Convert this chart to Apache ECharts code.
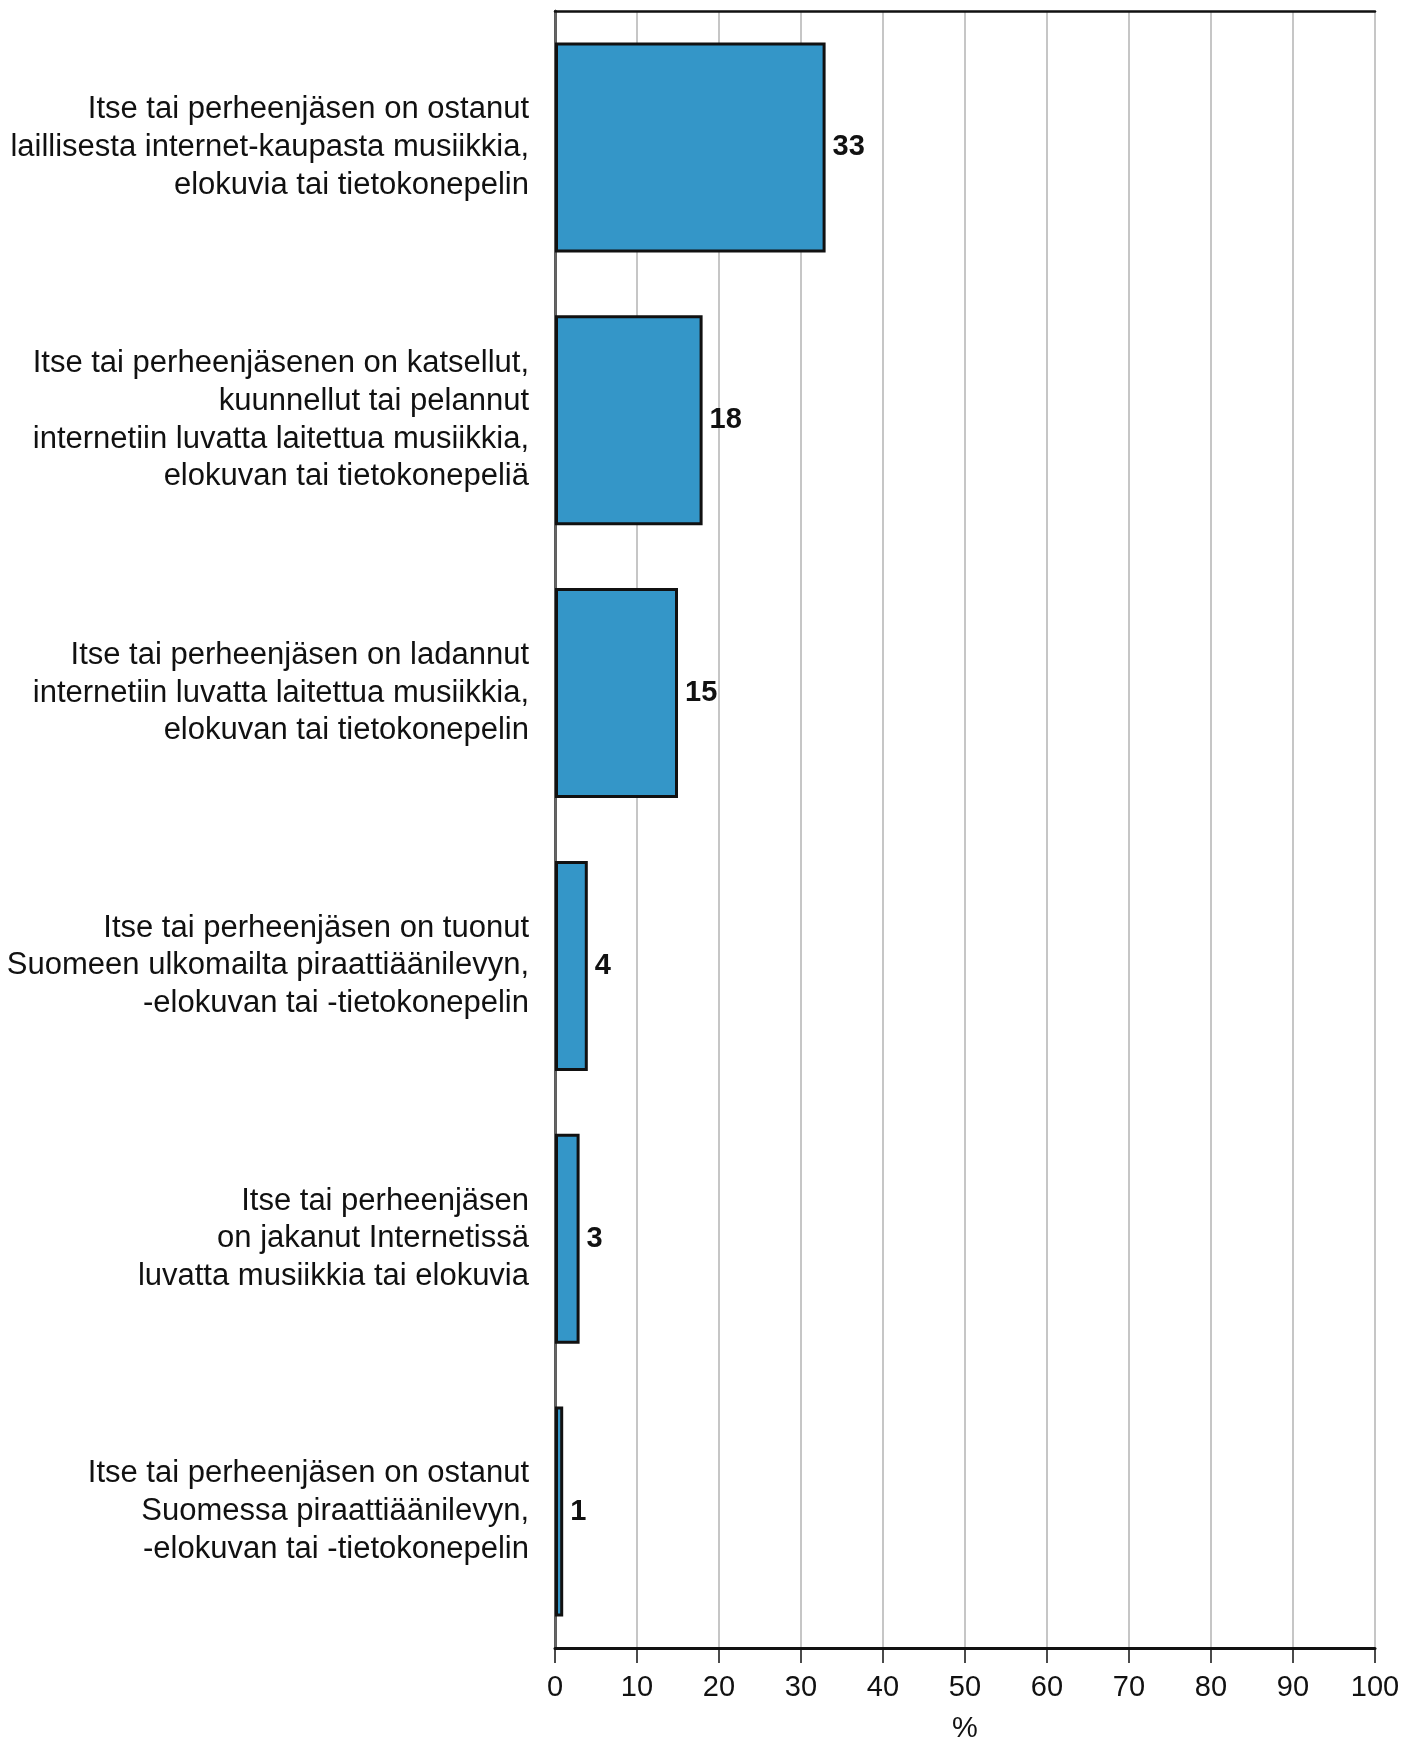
<!DOCTYPE html>
<html>
<head>
<meta charset="utf-8">
<script src="https://cdn.jsdelivr.net/npm/echarts@6/dist/echarts.min.js"></script>
<style>
html,body{margin:0;padding:0;background:#fff;}
#chart{width:1403px;height:1739px;}
</style>
</head>
<body>
<div id="chart"></div>
<script>
const categories = [
  "Itse tai perheenjäsen on ostanut\nlaillisesta internet-kaupasta musiikkia,\nelokuvia tai tietokonepelin",
  "Itse tai perheenjäsenen on katsellut,\nkuunnellut tai pelannut\ninternetiin luvatta laitettua musiikkia,\nelokuvan tai tietokonepeliä",
  "Itse tai perheenjäsen on ladannut\ninternetiin luvatta laitettua musiikkia,\nelokuvan tai tietokonepelin",
  "Itse tai perheenjäsen on tuonut\nSuomeen ulkomailta piraattiäänilevyn,\n-elokuvan tai -tietokonepelin",
  "Itse tai perheenjäsen\non jakanut Internetissä\nluvatta musiikkia tai elokuvia",
  "Itse tai perheenjäsen on ostanut\nSuomessa piraattiäänilevyn,\n-elokuvan tai -tietokonepelin"
];
const values = [33, 18, 15, 4, 3, 1];
const xTicks = [0, 10, 20, 30, 40, 50, 60, 70, 80, 90, 100];
const axisName = "%";

const FONT = "'Liberation Sans', Arial, sans-serif";
const chart = echarts.init(document.getElementById('chart'), null, {renderer: 'canvas'});
chart.setOption({
  backgroundColor: '#ffffff',
  animation: false,
  grid: {left: 555, right: 28, top: 11, bottom: 91, containLabel: false, outerBoundsMode: 'none'},
  xAxis: [{
    type: 'value',
    min: xTicks[0],
    max: xTicks[xTicks.length - 1],
    interval: 10,
    position: 'bottom',
    name: axisName,
    nameLocation: 'middle',
    nameGap: 66,
    nameTextStyle: {fontFamily: FONT, fontSize: 29, color: '#111'},
    axisLine: {show: true, lineStyle: {color: '#111', width: 3}},
    axisTick: {show: true, length: 15, lineStyle: {color: '#111', width: 1.5}},
    axisLabel: {fontFamily: FONT, fontSize: 29, color: '#111', margin: 25},
    splitLine: {show: true, lineStyle: {color: '#b3b3b3', width: 1.5}}
  }, {
    type: 'value',
    min: xTicks[0],
    max: xTicks[xTicks.length - 1],
    interval: 10,
    position: 'top',
    axisLine: {show: true, lineStyle: {color: '#111', width: 2.5}},
    axisTick: {show: false},
    axisLabel: {show: false},
    splitLine: {show: false}
  }],
  yAxis: [{
    type: 'category',
    data: categories,
    inverse: true,
    axisLine: {show: true, lineStyle: {color: '#111', width: 2.5}},
    axisTick: {show: false},
    axisLabel: {
      fontFamily: FONT, fontSize: 31, color: '#111', lineHeight: 37.7,
      margin: 26, align: 'right'
    }
  }, {
    type: 'category',
    data: categories,
    inverse: true,
    position: 'right',
    axisLine: {show: true, lineStyle: {color: '#666', width: 2.5}},
    axisTick: {show: false},
    axisLabel: {show: false}
  }],
  series: [{
    type: 'bar',
    data: values,
    xAxisIndex: 0,
    yAxisIndex: 0,
    barCategoryGap: '23%',
    itemStyle: {color: '#3496c8', borderColor: '#111', borderWidth: 3},
    label: {
      show: true, position: 'right', distance: 7,
      fontFamily: FONT, fontSize: 29, fontWeight: 'bold', color: '#111'
    }
  }]
});
</script>
</body>
</html>
